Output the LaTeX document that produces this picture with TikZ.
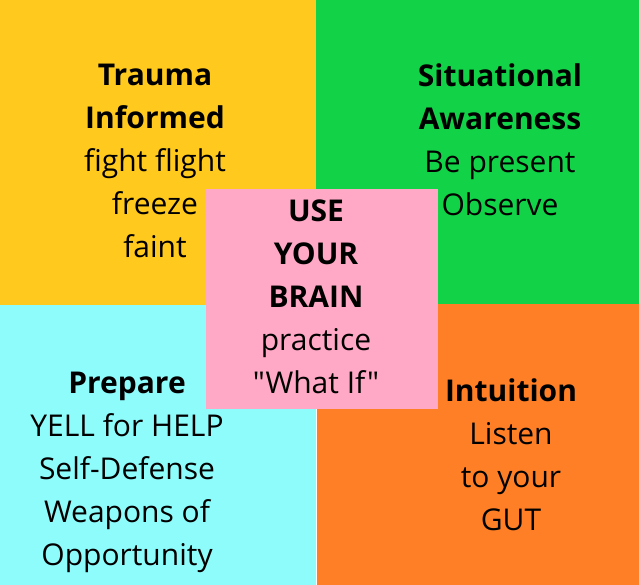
\documentclass[tikz,border=0pt]{standalone}
\usepackage{fontspec}
\setmainfont{Open Sans}[Ligatures=TeXOff]
\definecolor{qyellow}{RGB}{255,201,30}
\definecolor{qgreen}{RGB}{18,210,72}
\definecolor{qcyan}{RGB}{143,252,252}
\definecolor{qorange}{RGB}{255,127,39}
\definecolor{qpink}{RGB}{255,169,199}
\begin{document}
\begin{tikzpicture}[x=1pt,y=-1pt,
  quad/.style={inner sep=0pt, outer sep=0pt},
  label/.style={anchor=base, align=center, inner sep=0pt, font=\fontsize{30}{42.8}\selectfont, text=black}]
\useasboundingbox (0,0) rectangle (639,585);
\fill[white] (0,0) rectangle (639,585);
\fill[qyellow] (0,0) rectangle (316,305);
\fill[qgreen] (316,0) rectangle (639,304);
\fill[qcyan] (0,305) rectangle (316,585);
\fill[qorange] (317,304) rectangle (639,585);
\node[quad, fill=qpink, minimum width=232pt, minimum height=220pt, anchor=north west] (brainbox) at (206,189) {};
\node[label] (trauma) at (155,257) {\textbf{Trauma}\\\textbf{Informed}\\fight flight\\freeze\\faint};
\node[label] (situ) at (500,215) {\textbf{Situational}\\\textbf{Awareness}\\Be present\\Observe};
\node[label] (brain) at (316,393) {\textbf{USE}\\\textbf{YOUR}\\\textbf{BRAIN}\\practice\\"What If"};
\node[label] (prep) at (127,565) {\textbf{Prepare}\\YELL for HELP\\Self-Defense\\Weapons of\\Opportunity};
\node[label] (intu) at (511,530) {\textbf{Intuition}\\Listen\\to your\\GUT};
\end{tikzpicture}
\end{document}
